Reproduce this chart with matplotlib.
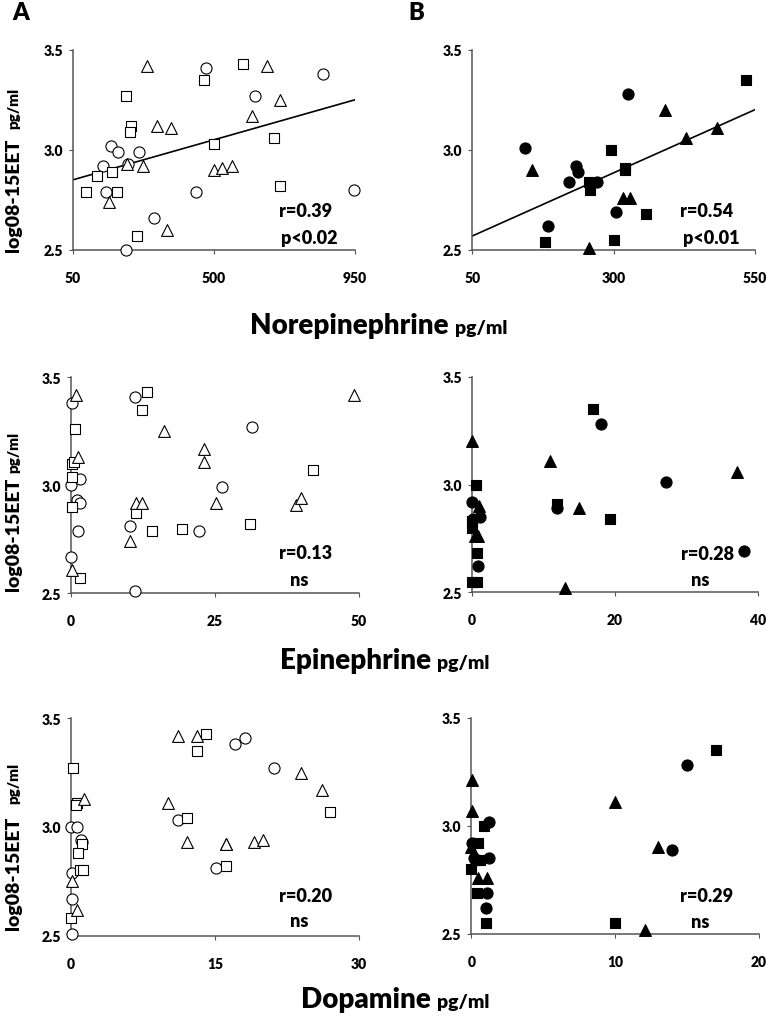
import matplotlib
matplotlib.use("Agg")
import matplotlib.pyplot as plt

plt.rcParams['font.family'] = ['Lato', 'DejaVu Sans']
plt.rcParams['font.weight'] = 'heavy'
WT = 'heavy'

# ---- Norepinephrine, group A (open markers) ----
ne_a_circ_x = [146, 172, 193, 262, 156, 227, 219, 308, 443, 475, 631, 847, 947]
ne_a_circ_y = [2.92, 3.02, 2.99, 2.99, 2.79, 2.93, 2.50, 2.66, 2.79, 3.41, 3.27, 3.38, 2.80]
ne_a_sq_x = [92, 129, 174, 192, 220, 236, 233, 256, 469, 500, 594, 693, 711]
ne_a_sq_y = [2.79, 2.87, 2.89, 2.79, 3.27, 3.12, 3.09, 2.57, 3.35, 3.03, 3.43, 3.06, 2.82]
ne_a_tri_x = [288, 320, 363, 167, 223, 275, 350, 502, 525, 557, 623, 669, 711]
ne_a_tri_y = [3.42, 3.12, 3.11, 2.74, 2.93, 2.92, 2.60, 2.90, 2.91, 2.92, 3.17, 3.42, 3.25]
ne_a_fit_x = [50, 950]
ne_a_fit_y = [2.85, 3.25]

# ---- Norepinephrine, group B (filled markers) ----
ne_b_circ_x = [144, 184, 222, 233, 237, 270, 305, 326]
ne_b_circ_y = [3.01, 2.62, 2.84, 2.92, 2.89, 2.84, 2.69, 3.28]
ne_b_sq_x = [179, 257, 258, 296, 301, 321, 320, 357, 535]
ne_b_sq_y = [2.54, 2.84, 2.80, 3.00, 2.55, 2.91, 2.90, 2.68, 3.35]
ne_b_tri_x = [156, 257, 317, 330, 392, 429, 484]
ne_b_tri_y = [2.90, 2.51, 2.76, 2.76, 3.20, 3.06, 3.11]
ne_b_fit_x = [50, 550]
ne_b_fit_y = [2.57, 3.20]

# ---- Epinephrine ----
ep_a_circ_x = [0.2, 0.0, 1.5, 1.0, 1.5, 1.3, 0.0, 11.1, 11.1, 10.2, 31.4, 26.3, 22.2]
ep_a_circ_y = [3.38, 3.00, 3.03, 2.93, 2.92, 2.79, 2.67, 2.51, 3.41, 2.81, 3.27, 2.99, 2.79]
ep_a_sq_x = [0.7, 0.2, 0.5, 0.2, 0.2, 1.6, 13.2, 12.3, 11.2, 14.1, 42.1, 31.1, 19.2]
ep_a_sq_y = [3.26, 3.10, 3.11, 3.04, 2.90, 2.57, 3.43, 3.35, 2.87, 2.79, 3.07, 2.82, 2.80]
ep_a_tri_x = [0.9, 1.3, 0.2, 11.2, 12.4, 10.2, 16.2, 23.1, 23.1, 25.2, 39.0, 40.0, 49.1]
ep_a_tri_y = [3.42, 3.13, 2.61, 2.92, 2.92, 2.74, 3.25, 3.17, 3.11, 2.92, 2.91, 2.94, 3.42]

ep_b_circ_x = [18.1, 27.1, 11.9, 38.1, 0.0, 1.2, 0.2, 0.9]
ep_b_circ_y = [3.28, 3.01, 2.89, 2.69, 2.92, 2.85, 2.84, 2.62]
ep_b_sq_x = [17.0, 11.9, 19.3, 0.6, 0.1, 0.1, 0.8, 0.1, 0.8]
ep_b_sq_y = [3.35, 2.91, 2.84, 3.00, 2.83, 2.80, 2.68, 2.55, 2.55]
ep_b_tri_x = [11.0, 37.1, 15.0, 13.0, 0.1, 1.0, 0.4, 0.9]
ep_b_tri_y = [3.11, 3.06, 2.89, 2.52, 3.20, 2.90, 2.76, 2.76]

# ---- Dopamine ----
da_a_circ_x = [17.1, 18.1, 21.1, 11.1, 15.1, 0.0, 0.6, 1.15, 0.1, 0.1, 0.1, 1.0]
da_a_circ_y = [3.38, 3.41, 3.27, 3.03, 2.81, 3.00, 3.00, 2.93, 2.79, 2.67, 2.51, 2.94]
da_a_sq_x = [14.1, 13.1, 27.0, 12.1, 16.1, 0.2, 0.6, 0.5, 1.15, 0.7, 0.9, 1.3, 0.0]
da_a_sq_y = [3.43, 3.35, 3.07, 3.04, 2.82, 3.27, 3.11, 3.10, 2.92, 2.88, 2.80, 2.80, 2.58]
da_a_tri_x = [11.1, 13.1, 24.0, 26.1, 10.1, 12.1, 16.1, 16.1, 19.1, 20.0, 1.4, 0.1, 0.6]
da_a_tri_y = [3.42, 3.42, 3.25, 3.17, 3.11, 2.93, 2.92, 2.92, 2.93, 2.94, 3.13, 2.75, 2.62]

da_b_circ_x = [15.0, 14.0, 1.25, 0.05, 1.2, 1.1, 1.0, 0.2]
da_b_circ_y = [3.28, 2.89, 3.02, 2.92, 2.85, 2.69, 2.62, 2.85]
da_b_sq_x = [17.0, 10.0, 0.86, 0.5, 0.3, 0.6, 0.0, 0.4, 1.0]
da_b_sq_y = [3.35, 2.55, 3.00, 2.92, 2.84, 2.84, 2.80, 2.69, 2.55]
da_b_tri_x = [10.0, 13.0, 12.1, 0.05, 0.05, 0.0, 0.5, 1.1]
da_b_tri_y = [3.11, 2.90, 2.52, 3.21, 3.07, 2.90, 2.76, 2.76]

y_ticks = [2.5, 3.0, 3.5]
stats = [("r=0.39", "p<0.02"), ("r=0.54", "p<0.01"),
         ("r=0.13", "ns"), ("r=0.28", "ns"),
         ("r=0.20", "ns"), ("r=0.29", "ns")]

W, H = 766, 1020
fig = plt.figure(figsize=(W / 100, H / 100), dpi=100)


def add_ax(left, right, top, bottom):
    return fig.add_axes([left / W, 1 - bottom / H, (right - left) / W, (bottom - top) / H])


def panel(ax, xlim, xticks, pts, filled, st, fit=None, txt_pos=None):
    face = 'black' if filled else 'white'
    cx, cy, sx, sy, tx, ty = pts
    if fit is not None:
        ax.plot(fit[0], fit[1], color='black', lw=1.2, zorder=2)
    ax.scatter(cx, cy, s=64, marker='o', facecolor=face, edgecolor='black', lw=0.8, zorder=3, clip_on=False)
    ax.scatter(sx, sy, s=60, marker='s', facecolor=face, edgecolor='black', lw=0.8, zorder=3, clip_on=False)
    ax.scatter(tx, ty, s=72, marker='^', facecolor=face, edgecolor='black', lw=0.8, zorder=3, clip_on=False)
    ax.set_xlim(xlim)
    ax.set_ylim(2.5, 3.5)
    ax.set_xticks(xticks)
    ax.set_yticks(y_ticks)
    ax.set_yticklabels(['%.1f' % v for v in y_ticks])
    for s in ['top', 'right']:
        ax.spines[s].set_visible(False)
    for s in ['left', 'bottom']:
        ax.spines[s].set_color('#555555')
        ax.spines[s].set_linewidth(1.1)
    ax.tick_params(axis='x', direction='out', length=3, color='#555555', pad=12, labelsize=10)
    ax.tick_params(axis='y', direction='out', length=3, color='#555555', pad=4, labelsize=10)
    for lab in ax.get_xticklabels() + ax.get_yticklabels():
        lab.set_fontweight(WT)
    (x1, y1), (x2, y2) = txt_pos
    ax.text(x1, y1, st[0], transform=ax.transAxes, ha='center', va='center', fontsize=13, fontweight=WT)
    ax.text(x2, y2, st[1], transform=ax.transAxes, ha='center', va='center', fontsize=13, fontweight=WT)


ax1 = add_ax(72.7, 355, 50.7, 251)
panel(ax1, (50, 950), [50, 500, 950],
      (ne_a_circ_x, ne_a_circ_y, ne_a_sq_x, ne_a_sq_y, ne_a_tri_x, ne_a_tri_y),
      False, stats[0], fit=(ne_a_fit_x, ne_a_fit_y), txt_pos=((0.826, 0.195), (0.837, 0.06)))
ax2 = add_ax(472.3, 754.7, 50.7, 251)
panel(ax2, (50, 550), [50, 300, 550],
      (ne_b_circ_x, ne_b_circ_y, ne_b_sq_x, ne_b_sq_y, ne_b_tri_x, ne_b_tri_y),
      True, stats[1], fit=(ne_b_fit_x, ne_b_fit_y), txt_pos=((0.828, 0.195), (0.845, 0.06)))
ax3 = add_ax(71, 359, 378.3, 594.3)
panel(ax3, (0, 50), [0, 25, 50],
      (ep_a_circ_x, ep_a_circ_y, ep_a_sq_x, ep_a_sq_y, ep_a_tri_x, ep_a_tri_y),
      False, stats[2], txt_pos=((0.816, 0.187), (0.792, 0.066)))
ax4 = add_ax(471.7, 758, 377.7, 593.3)
panel(ax4, (0, 40), [0, 20, 40],
      (ep_b_circ_x, ep_b_circ_y, ep_b_sq_x, ep_b_sq_y, ep_b_tri_x, ep_b_tri_y),
      True, stats[3], txt_pos=((0.822, 0.178), (0.798, 0.058)))
ax5 = add_ax(71, 359, 719.3, 936.7)
panel(ax5, (0, 30), [0, 15, 30],
      (da_a_circ_x, da_a_circ_y, da_a_sq_x, da_a_sq_y, da_a_tri_x, da_a_tri_y),
      False, stats[4], txt_pos=((0.816, 0.183), (0.792, 0.068)))
ax6 = add_ax(471.3, 758.7, 718.7, 935)
panel(ax6, (0, 20), [0, 10, 20],
      (da_b_circ_x, da_b_circ_y, da_b_sq_x, da_b_sq_y, da_b_tri_x, da_b_tri_y),
      True, stats[5], txt_pos=((0.82, 0.176), (0.795, 0.06)))

# panel letters
fig.text(21 / W, 1 - 13 / H, "A", fontsize=17, fontweight=WT, ha='center', va='center')
fig.text(416 / W, 1 - 13 / H, "B", fontsize=17, fontweight=WT, ha='center', va='center')

# y labels
for log_c, unit_c in [(195, 108), (534, 452), (873, 783)]:
    fig.text(14 / W, 1 - log_c / H, "log08-15EET", rotation=90, fontsize=14, fontweight=WT,
             ha='center', va='center')
    fig.text(14 / W, 1 - unit_c / H, "pg/ml", rotation=90, fontsize=11, fontweight=WT,
             ha='center', va='center')

# x labels
for word, split, base in [("Norepinephrine", 449, 334), ("Epinephrine", 431, 669), ("Dopamine", 431, 1008)]:
    fig.text(split / W, 1 - base / H, word, fontsize=20, fontweight=WT, ha='right', va='baseline')
    fig.text((split + 6) / W, 1 - base / H, "pg/ml", fontsize=14, fontweight=WT, ha='left', va='baseline')

fig.savefig("out.png", dpi=100)
